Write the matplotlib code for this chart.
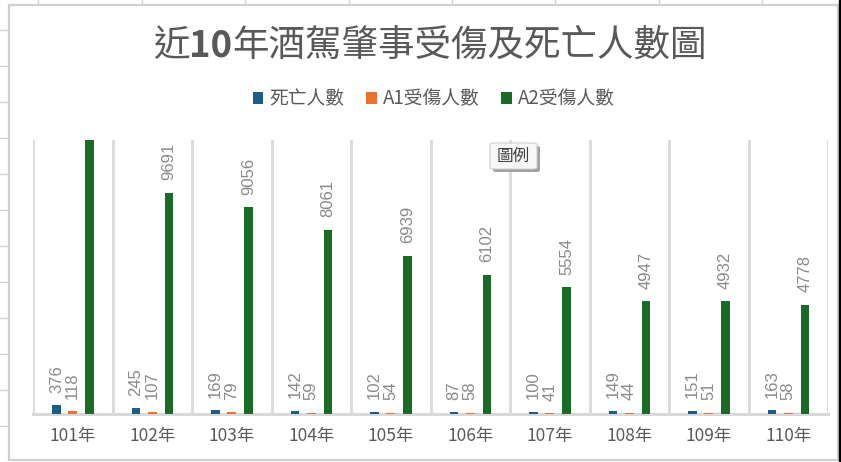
import matplotlib
matplotlib.use("Agg")
from matplotlib import pyplot as plt
from matplotlib.patches import Rectangle, FancyBboxPatch
from matplotlib.lines import Line2D
import numpy as np

plt.rcParams['font.family'] = ['Noto Sans CJK TC', 'DejaVu Sans']

years = ["101年", "102年", "103年", "104年", "105年", "106年", "107年", "108年", "109年", "110年"]
deaths = [376, 245, 169, 142, 102, 87, 100, 149, 151, 163]
a1_injured = [118, 107, 79, 59, 54, 58, 41, 44, 51, 58]
# 101年 bar runs off the top of the axis in the picture, value is an estimate
a2_injured = [12500, 9691, 9056, 8061, 6939, 6102, 5554, 4947, 4932, 4778]
series_names = ["死亡人數", "A1受傷人數", "A2受傷人數"]
colors = ["#1b5e83", "#ed7031", "#1a6b26"]
title_parts = [("近", "normal"), ("10", "bold"), ("年酒駕肇事受傷及死亡人數圖", "normal")]

W, H = 841, 462
fig = plt.figure(figsize=(W / 100, H / 100), dpi=100)

def px(x, y):
    """pixel coords (from top-left) -> figure fraction"""
    return x / W, 1 - y / H

# --- spreadsheet bits around the chart ---
grid_c = "#d4d4d4"
for yy in np.arange(30, 440, 36):
    fig.add_artist(Line2D([0, 8 / W], [1 - yy / H] * 2, color=grid_c, lw=1))
for xx in [38, 142, 245, 349, 452, 555, 659, 762]:
    fig.add_artist(Line2D([xx / W] * 2, [1, 1 - 5 / H], color=grid_c, lw=1))
fig.add_artist(Rectangle(px(9, 460), 829 / W, 455 / H, fill=False, ec="#d0d0d0", lw=1.6))
fig.add_artist(Rectangle((839 / W, 0), 2 / W, 1, color="black"))

# --- plot area ---
ax = fig.add_axes([33 / W, 48 / H, 795 / W, 274 / H])
x = np.arange(len(years))
offsets = [-0.205, 0.0, 0.21]
width = 0.11
handles = []
for vals, off, c, name in zip([deaths, a1_injured, a2_injured], offsets, colors, series_names):
    bars = ax.bar(x + off, vals, width, color=c, label=name, zorder=3)
    handles.append(bars)
    for xi, v in zip(x + off, vals):
        ax.annotate(str(v), (xi, v), xytext=(0, 9), textcoords="offset points",
                    rotation=90, ha="center", va="bottom", fontsize=12,
                    color="#8a8a8a", family=["Liberation Sans", "DejaVu Sans"])

ax.set_xlim(-0.5, len(years) - 0.5)
ax.set_ylim(0, 12000)
for b in np.arange(-0.5, len(years), 1.0):
    ax.axvline(b, color="#d9d9d9", lw=2, zorder=1)
for s in ["top", "left", "right"]:
    ax.spines[s].set_visible(False)
ax.spines["bottom"].set_color("#d9d9d9")
ax.spines["bottom"].set_linewidth(2.2)
ax.set_yticks([])
ax.set_xticks(x)
ax.set_xticklabels(years, fontsize=12.5, color="#595959")
ax.tick_params(axis="x", length=0, pad=9)

# title, "10" is bold in the original
renderer = fig.canvas.get_renderer()
pieces = []
for s, wgt in title_parts:
    pieces.append(fig.text(0, 1 - 46 / H, s, ha="left", va="center", fontsize=26.3,
                           fontweight=wgt, color="#595959"))
widths = [p.get_window_extent(renderer).width for p in pieces]
xpos = 430 - sum(widths) / 2
for p, w in zip(pieces, widths):
    p.set_x(xpos / W)
    xpos += w

fig.legend(handles=handles, labels=series_names, loc="center",
           bbox_to_anchor=px(434, 99), ncol=3, frameon=False, fontsize=13.5,
           handlelength=0.55, handleheight=0.55, handletextpad=0.35, columnspacing=1.15,
           labelcolor="#595959")

# the "圖例" tooltip from the screenshot
fig.add_artist(FancyBboxPatch(px(493, 172), 47 / W, 26 / H, boxstyle="round,pad=0,rounding_size=0.004",
                              fc="#a0a0a0", ec="none", zorder=5))
fig.add_artist(FancyBboxPatch(px(490, 169), 47 / W, 26 / H, boxstyle="round,pad=0,rounding_size=0.004",
                              fc="#f7f7f7", ec="#cfcfcf", lw=0.8, zorder=6))
fig.text(513.5 / W, 1 - 156 / H, "圖例", ha="center", va="center", fontsize=12,
         color="#404040", zorder=7)

fig.savefig("out.png", dpi=100)
